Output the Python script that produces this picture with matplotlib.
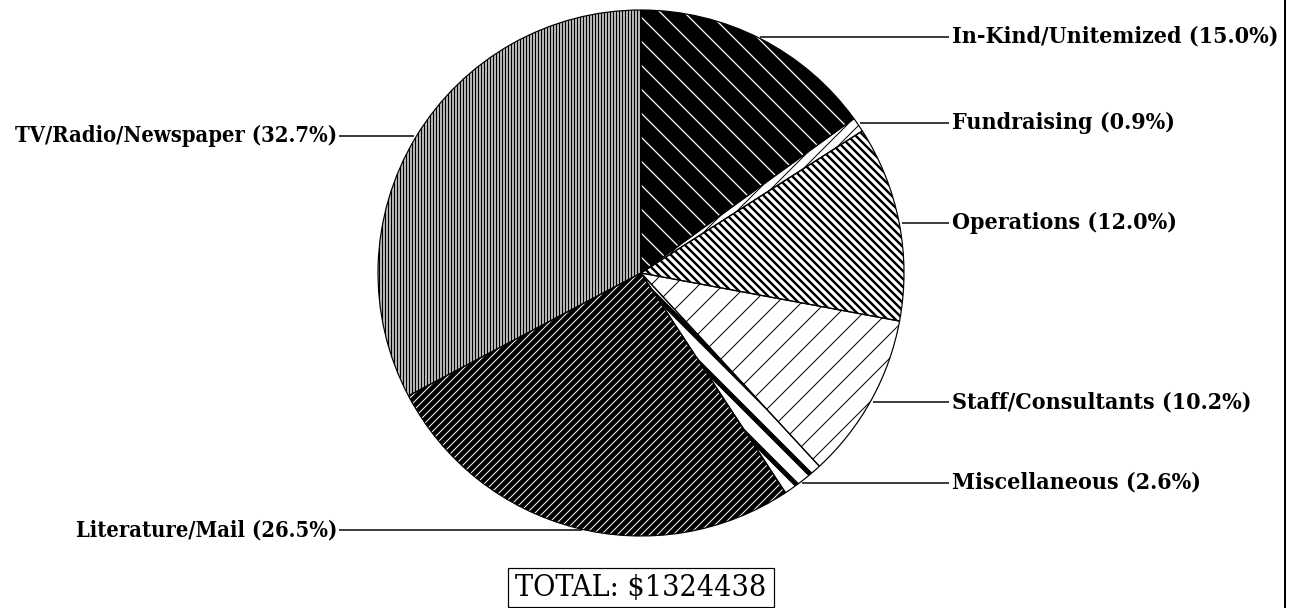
import math
import matplotlib
matplotlib.use('Agg')
import matplotlib.pyplot as plt
from matplotlib.patches import Rectangle

# ---------------- data ----------------
categories = ['In-Kind/Unitemized', 'Fundraising', 'Operations',
              'Staff/Consultants', 'Miscellaneous', 'Literature/Mail',
              'TV/Radio/Newspaper']
shares = [15.0, 0.9, 12.0, 10.2, 2.6, 26.5, 32.7]
total_amount = 1324438

# ---------------- figure ----------------
W, H, DPI = 1292, 608, 72
fig = plt.figure(figsize=(W / DPI, H / DPI), dpi=DPI)
fig.patch.set_facecolor('white')
ax = fig.add_axes([0, 0, 1, 1])
ax.set_xlim(0, W)
ax.set_ylim(0, H)
ax.set_aspect('equal')
ax.axis('off')

FONT = ['DejaVu Serif', 'Liberation Serif']
STRETCH = 'condensed'
WEIGHT = 'bold'

cx, cy, R = 641, H - 273, 263

# face colour, hatch, hatch colour, hatch linewidth
styles = [
    ('black', '\\', 'white', 1.3),
    ('white', '//', 'black', 1.0),
    ('white', '\\\\\\', 'black', 2.4),
    ('white', '/', 'black', 1.0),
    ('white', '\\', 'black', 5.0),
    ('black', '///', 'white', 1.0),
    ('#b4b4b4', '||||', 'black', 1.0),
]


def with_hatch_lw(artist, lw):
    orig = artist.draw

    def draw(renderer, *a, **k):
        with plt.rc_context({'hatch.linewidth': lw}):
            return orig(renderer, *a, **k)
    artist.draw = draw


wedges, _ = ax.pie(shares, startangle=90, counterclock=False, center=(cx, cy),
                   radius=R, normalize=True, frame=True,
                   wedgeprops=dict(linewidth=0))
for w, (fc, hatch, hc, hlw) in zip(wedges, styles):
    w.set_facecolor(fc)
    w.set_edgecolor(hc)
    w.set_hatch(hatch)
    w.set_linewidth(0)
    if hasattr(w, 'set_hatch_linewidth'):
        w.set_hatch_linewidth(hlw)
    else:
        w._hatch_linewidth = hlw
    with_hatch_lw(w, hlw)

# outlines
ax.pie(shares, startangle=90, counterclock=False, center=(cx, cy),
       radius=R, normalize=True, frame=True,
       wedgeprops=dict(fill=False, edgecolor='black', linewidth=1.2))
ax.set_xlim(0, W)
ax.set_ylim(0, H)
ax.axis('off')

# ---------------- labels ----------------
label_py = [37, 123, 223, 402, 483, 530, 136]
sides = ['r', 'r', 'r', 'r', 'r', 'l', 'l']

renderer = fig.canvas.get_renderer()


def fitted_size(txt, target_w, weight=WEIGHT):
    t = ax.text(0, 0, txt, fontsize=20, family=FONT, fontstretch=STRETCH,
                fontweight=weight)
    bb = t.get_window_extent(renderer=renderer)
    t.remove()
    return 20 * target_w / bb.width


labels = [f'{c} ({s:.1f}%)' for c, s in zip(categories, shares)]
fs_r = fitted_size(labels[0], 327)
fs_l = fitted_size(labels[6], 322)

for lab, py, side in zip(labels, label_py, sides):
    y = H - py
    dy = y - cy
    dx = math.sqrt(max(R * R - dy * dy, 0))
    if side == 'r':
        x0 = cx + dx + 3
        ax.plot([x0, 949], [y, y], color='black', lw=1.5, solid_capstyle='butt')
        ax.text(952, y, lab, ha='left', va='center', fontsize=fs_r, family=FONT,
                fontstretch=STRETCH, fontweight=WEIGHT)
    else:
        x0 = cx - dx - 3
        ax.plot([339, x0], [y, y], color='black', lw=1.5, solid_capstyle='butt')
        ax.text(337, y, lab, ha='right', va='center', fontsize=fs_l, family=FONT,
                fontstretch=STRETCH, fontweight=WEIGHT)

# ---------------- total box ----------------
total_txt = f'TOTAL: ${total_amount}'
ax.add_patch(Rectangle((508, H - 607), 266, 39, fill=False, edgecolor='black', lw=1.2))
tfs = fitted_size(total_txt, 250, weight='normal')
ax.text(641, H - 588, total_txt, ha='center', va='center',
        fontsize=min(tfs, fs_r * 1.35), family=FONT, fontstretch=STRETCH,
        fontweight='normal')

# right border line
ax.plot([1285, 1285], [0, H], color='black', lw=2)

fig.savefig('out.png', dpi=DPI, facecolor='white')
